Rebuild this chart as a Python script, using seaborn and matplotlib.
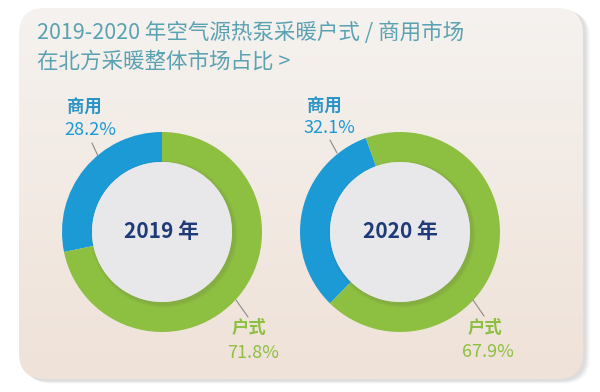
import numpy as np
import pandas as pd
import matplotlib.pyplot as plt
import seaborn as sns
from matplotlib.patches import FancyBboxPatch, Circle
from matplotlib.colors import to_rgb

sns.set_theme(style="white")
plt.rcParams['font.family'] = ['Noto Sans CJK SC', 'DejaVu Sans']

# --- data ---
years = ["2019 年", "2020 年"]
segments = ["商用", "户式"]
share_2019 = [28.2, 71.8]
share_2020 = [32.1, 67.9]
start_angles = [90, 110]
title_lines = ["2019-2020 年空气源热泵采暖户式 / 商用市场", "在北方采暖整体市场占比 >"]

BLUE = "#1b9ad5"
GREEN = "#8dbf40"
TITLE_C = "#5aa2b2"
NAVY = "#1e3a78"

df = pd.DataFrame({"year": np.repeat(years, 2),
                   "segment": segments * 2,
                   "share": share_2019 + share_2020})

W, H = 600, 392
fig = plt.figure(figsize=(W / 100, H / 100), dpi=100)
fig.patch.set_facecolor("white")

# background card
bg = fig.add_axes([0, 0, 1, 1])
bg.set_xlim(0, W)
bg.set_ylim(H, 0)
bg.axis("off")
for i, a in enumerate([0.05, 0.05, 0.06, 0.07, 0.08]):
    off = 6 - i
    sh = FancyBboxPatch((20 + off, 8 + off * 0.6), 564, 372,
                        boxstyle="round,pad=0,rounding_size=26",
                        fc="#8a8a8a", ec="none", alpha=a)
    bg.add_patch(sh)
card = FancyBboxPatch((19, 8), 564, 371, boxstyle="round,pad=0,rounding_size=26",
                      fc="none", ec="none")
bg.add_patch(card)
top_c, bot_c = np.array(to_rgb("#f5f2ef")), np.array(to_rgb("#efe2d8"))
t = np.linspace(0, 1, 200)[:, None]
grad = (top_c * (1 - t) + bot_c * t)[:, None, :]
im = bg.imshow(grad, extent=[19, 583, 379, 8], aspect="auto", zorder=1)
im.set_clip_path(card)

for k, line in enumerate(title_lines):
    bg.text(37, 33 + k * 29, line, color=TITLE_C, fontsize=15.5,
            va="center", ha="left", zorder=3)

# donuts
centers = [162, 400]
cy = 232
R = 100
S = 1.6
label_pos = [
    {"top": (-0.78, 1.24), "topv": (-0.72, 1.02), "tl": [(-0.70, 0.89), (-0.64, 0.76)],
     "bot": (0.87, -0.96), "botv": (0.91, -1.21), "bl": [(0.74, -0.68), (0.86, -0.85)]},
    {"top": (-0.755, 1.25), "topv": (-0.71, 1.04), "tl": [(-0.70, 0.92), (-0.63, 0.79)],
     "bot": (0.85, -0.96), "botv": (0.88, -1.20), "bl": [(0.73, -0.68), (0.84, -0.84)]},
]

for i, yr in enumerate(years):
    sub = df[df["year"] == yr]
    cx = centers[i]
    ax = fig.add_axes([(cx - S * R) / W, (H - cy - S * R) / H, 2 * S * R / W, 2 * S * R / H])
    ax.set_xlim(-S, S)
    ax.set_ylim(-S, S)
    ax.axis("off")
    ax.pie(sub["share"], colors=[BLUE, GREEN], startangle=start_angles[i],
           counterclock=True, radius=1.0,
           wedgeprops=dict(width=0.30, edgecolor="none", linewidth=0))
    # shadow of inner disc
    for j, a in enumerate([0.04, 0.05, 0.06]):
        ax.add_patch(Circle((0.02, -0.02), 0.70 + 0.035 * (3 - j) / 3, fc="#555555",
                            ec="none", alpha=a, zorder=3))
    ax.add_patch(Circle((0, 0), 0.70, fc="#e8e8ea", ec="none", zorder=4))
    ax.set_xlim(-S, S)
    ax.set_ylim(-S, S)
    ax.set_aspect("equal")
    ax.text(0, 0, yr, color=NAVY, fontsize=15, fontweight="bold",
            ha="center", va="center", zorder=5)

    lp = label_pos[i]
    vals = sub["share"].tolist()
    ax.text(*lp["top"], segments[0], color="#2a94c6", fontsize=12.5, fontweight="bold",
            ha="center", va="center")
    ax.text(*lp["topv"], f"{vals[0]:.1f}%", color=BLUE, fontsize=13, ha="center", va="center")
    ax.text(*lp["bot"], segments[1], color=GREEN, fontsize=12.5, fontweight="bold",
            ha="center", va="center")
    ax.text(*lp["botv"], f"{vals[1]:.1f}%", color=GREEN, fontsize=13, ha="center", va="center")
    for key in ["tl", "bl"]:
        (x0, y0), (x1, y1) = lp[key]
        ax.plot([x0, x1], [y0, y1], color="#8a8a8a", lw=0.8, zorder=6)

fig.savefig("out.png", dpi=100, facecolor="white")
